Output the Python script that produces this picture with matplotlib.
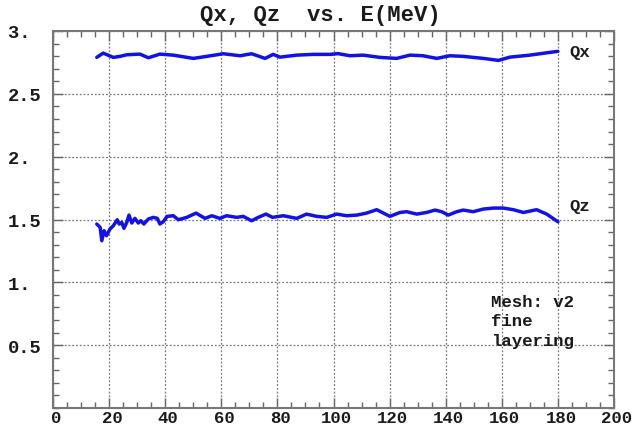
import matplotlib
matplotlib.use("Agg")
import matplotlib.pyplot as plt
import matplotlib.transforms as mtransforms
from matplotlib.ticker import MultipleLocator, FixedLocator

title = "Qx, Qz  vs. E(MeV)"

qx_e = [15.6, 17.9, 21.5, 23.9, 26.3, 31.0, 34.0, 38.1, 42.9, 50.0, 54.8, 60.7,
        66.7, 70.8, 75.6, 78.5, 80.9, 86.9, 92.8, 98.8, 101.6, 105.9, 110.5,
        116.6, 122.5, 127.3, 131.9, 136.8, 141.5, 146.3, 153.4, 158.8, 162.9,
        170.0, 177.2, 180.0]
qx_v = [2.790, 2.824, 2.790, 2.798, 2.811, 2.816, 2.787, 2.816, 2.808, 2.782,
        2.798, 2.819, 2.803, 2.819, 2.782, 2.814, 2.792, 2.808, 2.814, 2.814,
        2.820, 2.803, 2.808, 2.790, 2.782, 2.808, 2.803, 2.782, 2.803, 2.798,
        2.782, 2.766, 2.792, 2.808, 2.830, 2.838]

qz_e = [15.6, 16.8, 17.4, 18.2, 19.1, 20.3, 21.5, 22.9, 23.6, 24.5, 25.3, 26.3,
        27.1, 28.1, 29.2, 30.4, 31.3, 32.4, 34.0, 35.8, 37.2, 38.1, 39.3, 40.7,
        42.9, 44.7, 47.7, 51.0, 54.2, 56.6, 59.5, 61.9, 65.5, 67.8, 70.8, 73.2,
        75.9, 78.3, 82.1, 86.9, 90.4, 94.0, 97.6, 101.1, 104.7, 108.3, 111.8,
        115.4, 117.8, 120.1, 123.7, 126.1, 129.7, 133.2, 136.2, 138.6, 140.9,
        143.9, 146.3, 149.8, 153.4, 157.0, 160.5, 164.1, 167.7, 172.4, 176.0,
        180.0]
qz_v = [1.464, 1.438, 1.331, 1.411, 1.371, 1.424, 1.450, 1.498, 1.464, 1.477,
        1.430, 1.477, 1.535, 1.472, 1.509, 1.472, 1.490, 1.464, 1.504, 1.517,
        1.509, 1.464, 1.482, 1.525, 1.530, 1.498, 1.517, 1.551, 1.509, 1.530,
        1.509, 1.530, 1.517, 1.525, 1.490, 1.517, 1.543, 1.517, 1.530, 1.509,
        1.543, 1.525, 1.517, 1.543, 1.530, 1.535, 1.551, 1.578, 1.551, 1.525,
        1.556, 1.562, 1.543, 1.556, 1.575, 1.562, 1.535, 1.562, 1.575, 1.562,
        1.583, 1.591, 1.591, 1.578, 1.556, 1.578, 1.543, 1.482]

x_ticks = [0, 20, 40, 60, 80, 100, 120, 140, 160, 180, 200]
x_labels = ["0", "20", "40", "60", "80", "100", "120", "140", "160", "180", "200"]
y_ticks = [0.5, 1.0, 1.5, 2.0, 2.5, 3.0]
y_labels = ["0.5", "1. ", "1.5", "2. ", "2.5", "3. "]

mono = "Liberation Mono"
ink = "#1a1a1a"
fig = plt.figure(figsize=(6.4, 4.31), dpi=100)
ax = fig.add_axes([53/640, 1-409/431, (614-53)/640, (409-32)/431])

ax.plot(qx_e, qx_v, color="#1212e8", lw=2.5, solid_joinstyle="round", solid_capstyle="round")
ax.plot(qz_e, qz_v, color="#1212e8", lw=2.5, solid_joinstyle="round", solid_capstyle="round")

ax.set_xlim(0, 200)
ax.set_ylim(0, 3.0)
ax.xaxis.set_major_locator(FixedLocator(x_ticks))
ax.set_xticklabels(x_labels)
ax.yaxis.set_major_locator(FixedLocator(y_ticks))
ax.set_yticklabels(y_labels)
ax.xaxis.set_minor_locator(MultipleLocator(5))
ax.yaxis.set_minor_locator(MultipleLocator(0.1))
ax.tick_params(which="both", direction="in", top=True, right=True, color="#666666")
ax.tick_params(which="major", length=7, width=1)
ax.tick_params(which="minor", length=4, width=1)
ax.tick_params(axis="x", which="major", labelsize=12.5, pad=1.5)
ax.tick_params(axis="y", which="major", labelsize=13.5, pad=8)
offset = mtransforms.ScaledTranslation(3/100, 0, fig.dpi_scale_trans)
for lab in ax.get_xticklabels():
    lab.set_transform(lab.get_transform() + offset)
for lab in ax.get_xticklabels() + ax.get_yticklabels():
    lab.set_fontfamily(mono)
    lab.set_fontweight("bold")
    lab.set_color(ink)
ax.grid(True, which="major", color="#777777", ls=(0, (1.5, 1.5)), lw=0.9)
for s in ax.spines.values():
    s.set_color("#777777")
    s.set_linewidth(1.5)

fig.text(0.5, 1-15/431, title, fontfamily=mono, fontweight="bold", fontsize=16,
         ha="center", va="center", color=ink)
ax.text(184, 2.84, "Qx", fontfamily=mono, fontweight="bold", fontsize=12.5, va="center", color=ink)
ax.text(184, 1.61, "Qz", fontfamily=mono, fontweight="bold", fontsize=12.5, va="center", color=ink)
ax.text(156, 0.905, "Mesh: v2\nfine\nlayering", fontfamily=mono, fontweight="bold",
        fontsize=12.5, va="top", ha="left", linespacing=1.35, color=ink)

fig.savefig("out.png", dpi=100)
